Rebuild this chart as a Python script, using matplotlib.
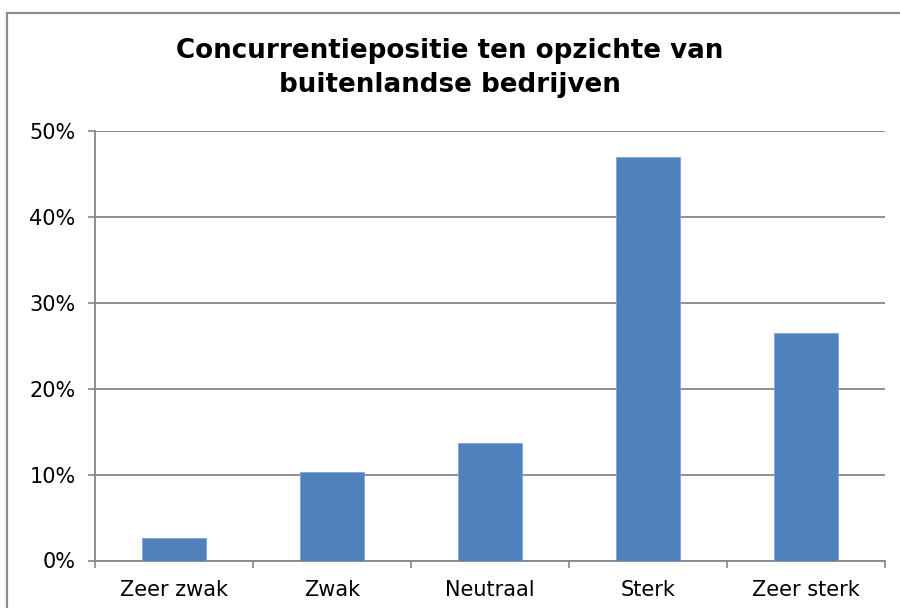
import matplotlib.pyplot as plt
from matplotlib.patches import Rectangle
import numpy as np

categories = ['Zeer zwak', 'Zwak', 'Neutraal', 'Sterk', 'Zeer sterk']
values = [2.6, 10.3, 13.7, 47.0, 26.5]
yticks = [0, 10, 20, 30, 40, 50]
title = 'Concurrentiepositie ten opzichte van\nbuitenlandse bedrijven'

plt.rcParams['font.family'] = 'DejaVu Sans'

fig = plt.figure(figsize=(9, 6.08), dpi=100)
ax = fig.add_axes([95 / 900, 47.5 / 608, 790 / 900, 429.5 / 608])

x = np.arange(len(categories))
ax.bar(x, values, width=0.4, color='#4F81BD', edgecolor='#7FA3D0', linewidth=0.6, zorder=3)

ax.set_xlim(-0.5, len(categories) - 0.5)
ax.set_ylim(0, 50)

gray = '#868686'
ax.set_yticks(yticks)
ax.set_yticklabels([f'{t}%' for t in yticks], fontsize=15)
ax.yaxis.grid(True, color=gray, linewidth=1.3, zorder=0)
ax.tick_params(axis='y', length=5, color=gray, width=1.2, pad=9)

# category labels at centres, tick marks at the boundaries
ax.set_xticks(x)
ax.set_xticklabels(categories, fontsize=15)
ax.tick_params(axis='x', which='major', length=0, pad=14)
ax.set_xticks(np.arange(len(categories) + 1) - 0.5, minor=True)
ax.tick_params(axis='x', which='minor', length=5, color=gray, width=1.2)

for side in ['top', 'right']:
    ax.spines[side].set_visible(False)
for side in ['left', 'bottom']:
    ax.spines[side].set_color(gray)
    ax.spines[side].set_linewidth(1.3)

fig.text(0.5, 1 - 68 / 608, title, ha='center', va='center',
         fontsize=18.8, fontweight='bold', linespacing=1.4)

# chart border
fig.patches.append(Rectangle((7 / 900, -0.1), 1.0, 1 - 13 / 608 + 0.1,
                             transform=fig.transFigure, fill=False,
                             edgecolor='#8c8c8c', linewidth=1.6))

fig.savefig('out.png', dpi=100, facecolor='white')
